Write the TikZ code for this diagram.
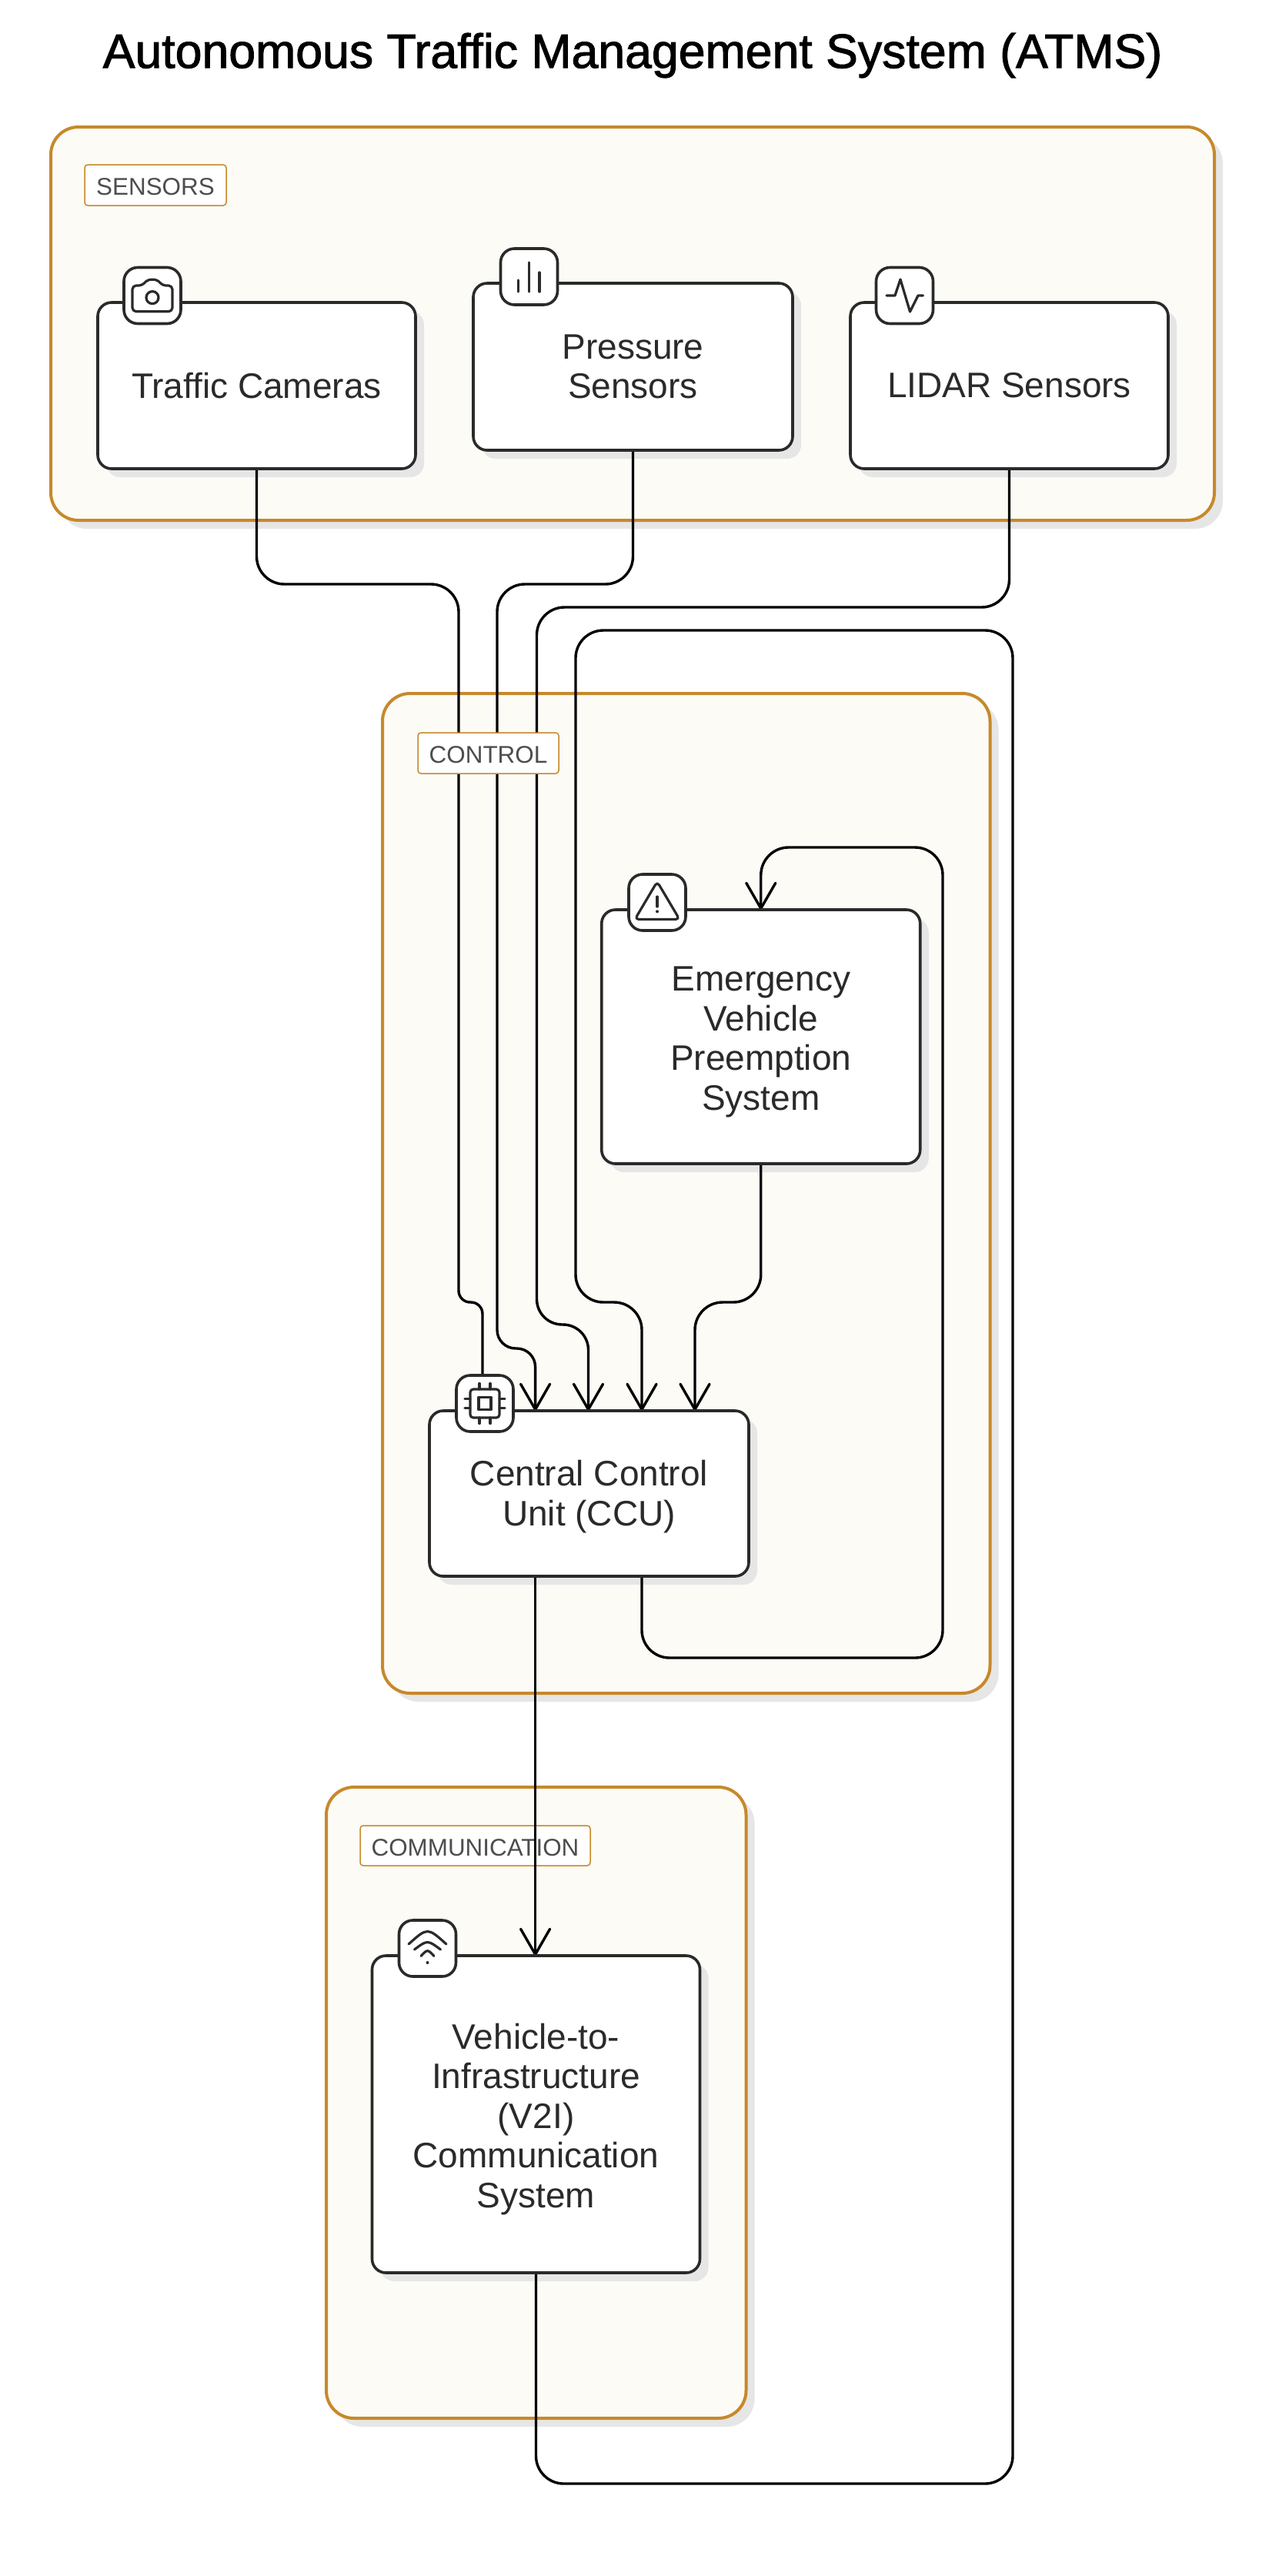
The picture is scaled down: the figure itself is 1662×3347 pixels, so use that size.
\documentclass[tikz,border=0pt]{standalone}
\usepackage{fontspec}
\usetikzlibrary{arrows.meta,shadows,calc}
\setmainfont{Liberation Sans}[Ligatures=NoCommon]
\newfontfamily\titlefont{Liberation Sans}[FakeBold=1.6,Ligatures=NoCommon]
\definecolor{ink}{HTML}{2A2A2A}
\definecolor{amber}{HTML}{C6892B}
\definecolor{paneltint}{HTML}{FCFBF6}
\definecolor{shade}{HTML}{E6E6E7}
\definecolor{labelink}{HTML}{4D4D4D}
\pgfdeclarelayer{bg}
\pgfdeclarelayer{lines}
\pgfdeclarelayer{labels}
\pgfdeclarelayer{late}
\pgfsetlayers{bg,lines,labels,late,main}
\newcommand{\tagtext}[1]{\rule{0pt}{27pt}#1}
\newcommand{\lift}[1]{\rule{0pt}{#1pt}}
\tikzset{
  panel/.style={draw=amber,fill=paneltint,line width=4pt,rounded corners=36pt,inner sep=0pt,outer sep=0pt,
    general shadow={fill=shade,shadow xshift=11pt,shadow yshift=-11pt}},
  tag/.style={draw=amber,fill=white,line width=1.5pt,rounded corners=4pt,inner sep=0pt,outer sep=0pt,
    text=labelink,font=\fontsize{31.4}{36}\selectfont},
  compbox/.style={draw=ink,fill=white,line width=3.6pt,rounded corners=18pt,inner sep=0pt,outer sep=0pt,
    text=ink,align=center,font=\fontsize{46}{51.4}\selectfont},
  iconbox/.style={draw=ink,fill=white,line width=3.6pt,rounded corners=18pt,inner sep=0pt,outer sep=0pt,
    minimum width=74pt,minimum height=73pt},
  glyph/.style={draw=ink,line width=3.2pt,line cap=round,line join=round},
  conn/.style={draw=black,line width=3.4pt,rounded corners=36pt},
  connarrow/.style={conn,-{Straight Barb[length=33pt,width=38pt,round]}},
  boxshade/.style={fill=shade,rounded corners=18pt},
}
\begin{document}
\begin{tikzpicture}[x=1pt,y=-1pt]
\useasboundingbox (0,0) rectangle (1662,3347);
% panels
\begin{pgfonlayer}{bg}
\fill[white] (0,0) rectangle (1662,3347);
\node[panel,minimum width=1512pt,minimum height=511pt] (sensors) at (822,420.5) {};
\node[panel,minimum width=789.5pt,minimum height=1299pt] (control) at (891.75,1550.5) {};
\node[panel,minimum width=545.5pt,minimum height=820pt] (comm) at (696.75,2732) {};
\end{pgfonlayer}
% title
\node[font=\titlefont\fontsize{62.6}{70}\selectfont,text=black] (title) at (822,72) {Autonomous Traffic Management System (ATMS)};
% panel labels
\begin{pgfonlayer}{labels}
\node[tag,minimum width=184pt,minimum height=53pt] (sensorsTag) at (202,240.5) {\tagtext{SENSORS}};
\node[tag,minimum width=183pt,minimum height=53pt] (controlTag) at (634.5,978.5) {\tagtext{CONTROL}};
\node[tag,minimum width=299pt,minimum height=52pt] (commTag) at (617.5,2398) {\tagtext{COMMUNICATION}};
\end{pgfonlayer}
% components
\node[compbox,minimum width=413pt,minimum height=216pt] (traffic) at (333.5,501) {Traffic Cameras};
\node[compbox,minimum width=415pt,minimum height=217pt] (pressure) at (822.5,476.5) {Pressure\\Sensors};
\node[compbox,minimum width=413pt,minimum height=216pt] (lidar) at (1311.5,501) {LIDAR Sensors};
\node[compbox,minimum width=414pt,minimum height=330pt] (emerg) at (988.75,1347) {\lift{45.5}Emergency\\Vehicle\\Preemption\\System};
\node[compbox,minimum width=415pt,minimum height=215pt] (ccu) at (765.5,1940.5) {\lift{41.5}Central Control\\Unit (CCU)};
\node[compbox,minimum width=426pt,minimum height=412pt] (vti) at (696.5,2747) {\lift{46}Vehicle-to-\\Infrastructure\\(V2I)\\Communication\\System};
% shadows of components
\begin{pgfonlayer}{bg}
\foreach \n in {traffic,pressure,lidar,emerg,ccu,vti}
  \fill[boxshade] ([shift={(11,11)}]\n.north west) rectangle ([shift={(11,11)}]\n.south east);
\end{pgfonlayer}
% icon badges
\node[iconbox] (iconCam) at (198,384) {};
\node[iconbox] (iconBars) at (687.5,359.5) {};
\node[iconbox] (iconPulse) at (1175.5,384) {};
\node[iconbox] (iconWarn) at (854,1172.5) {};
\node[iconbox] (iconChip) at (630,1823.5) {};
\node[iconbox] (iconWifi) at (555.5,2531.5) {};
% camera
\begin{scope}[shift={(iconCam.center)}]
\draw[glyph,rounded corners=5pt] (6.5,-20.8) -- (-6.5,-20.8) -- (-13,-13) -- (-26,-13) -- (-26,20.8) -- (26,20.8) -- (26,-13) -- (13,-13) -- cycle;
\draw[glyph] (0,2.6) circle (8pt);
\end{scope}
% bars
\begin{scope}[shift={(iconBars.center)}]
\draw[glyph] (-14,19.5) -- (-14,4.5);
\draw[glyph] (0,19.5) -- (0,-18.5);
\draw[glyph] (13.5,19.5) -- (13.5,-5.5);
\end{scope}
% pulse
\begin{scope}[shift={(iconPulse.center)}]
\draw[glyph] (-23.5,0) -- (-12.5,0) -- (-5.5,-21) -- (7,21) -- (17.5,0) -- (24,0);
\end{scope}
% warning
\begin{scope}[shift={(iconWarn.center)}]
\draw[glyph,rounded corners=5pt] (0,-27) -- (29,22) -- (-29,22) -- cycle;
\draw[glyph] (0,-7.5) -- (0,5.5);
\fill[ink] (0,11.8) circle (2pt);
\end{scope}
% chip
\begin{scope}[shift={(iconChip.center)}]
\draw[glyph,rounded corners=4pt] (-19,-18.5) rectangle (19,18.5);
\draw[glyph] (-8,-8) rectangle (8,8);
\foreach \t in {-7,7} {
  \draw[glyph] (\t,-26) -- (\t,-18.5);
  \draw[glyph] (\t,18.5) -- (\t,26);
}
\foreach \t in {-6,6} {
  \draw[glyph] (-26,\t) -- (-19,\t);
  \draw[glyph] (19,\t) -- (26,\t);
}
\end{scope}
% wifi
\begin{scope}[shift={(iconWifi.center)}]
\draw[glyph] (-24.5,-5.5) .. controls (0,-27.5) .. (24.5,-5.5);
\draw[glyph] (-17,1.5) .. controls (0,-11.1) .. (17,1.5);
\draw[glyph] (-8.5,10) .. controls (0,1) .. (8.5,10);
\fill[ink] (0,18.5) circle (2pt);
\end{scope}
% ports on the component edges
\coordinate (ccuInA) at (627,1833);
\coordinate (ccuInB) at (695.6,1833);
\coordinate (ccuInC) at (764.5,1833);
\coordinate (ccuInD) at (834,1833);
\coordinate (ccuInE) at (903,1833);
\coordinate (ccuOutA) at (695.6,2048);
\coordinate (ccuOutB) at (834,2048);
\coordinate (vtiIn) at (695.6,2541);
% connectors
\begin{pgfonlayer}{lines}
\draw[connarrow] (traffic.south) -- (333.5,759) -- (596,759) [rounded corners=15pt] -- (596,1692) -- (627,1692) -- (ccuInA);
\draw[connarrow] (pressure.south) -- (822.5,759) -- (646,759) [rounded corners=24pt] -- (646,1752) -- (ccuInB |- 0,1752) -- (ccuInB);
\draw[connarrow] (lidar.south) -- (1311.5,789) -- (697.5,789) [rounded corners=33pt] -- (697.5,1721) -- (ccuInC |- 0,1721) -- (ccuInC);
\draw[connarrow] (vti.south) -- (696.5,3227) -- (1316,3227) -- (1316,819) -- (748,819) -- (748,1692) -- (ccuInD |- 0,1692) -- (ccuInD);
\draw[connarrow] (emerg.south) -- (988.75,1692) -- (ccuInE |- 0,1692) -- (ccuInE);
\draw[connarrow] (ccuOutB) -- (834,2154) -- (1225,2154) -- (1225,1101) -- (988.75,1101) -- (emerg.north);
\end{pgfonlayer}
\begin{pgfonlayer}{late}
\draw[connarrow] (ccuOutA) -- (vtiIn);
\end{pgfonlayer}
\end{tikzpicture}
\end{document}
